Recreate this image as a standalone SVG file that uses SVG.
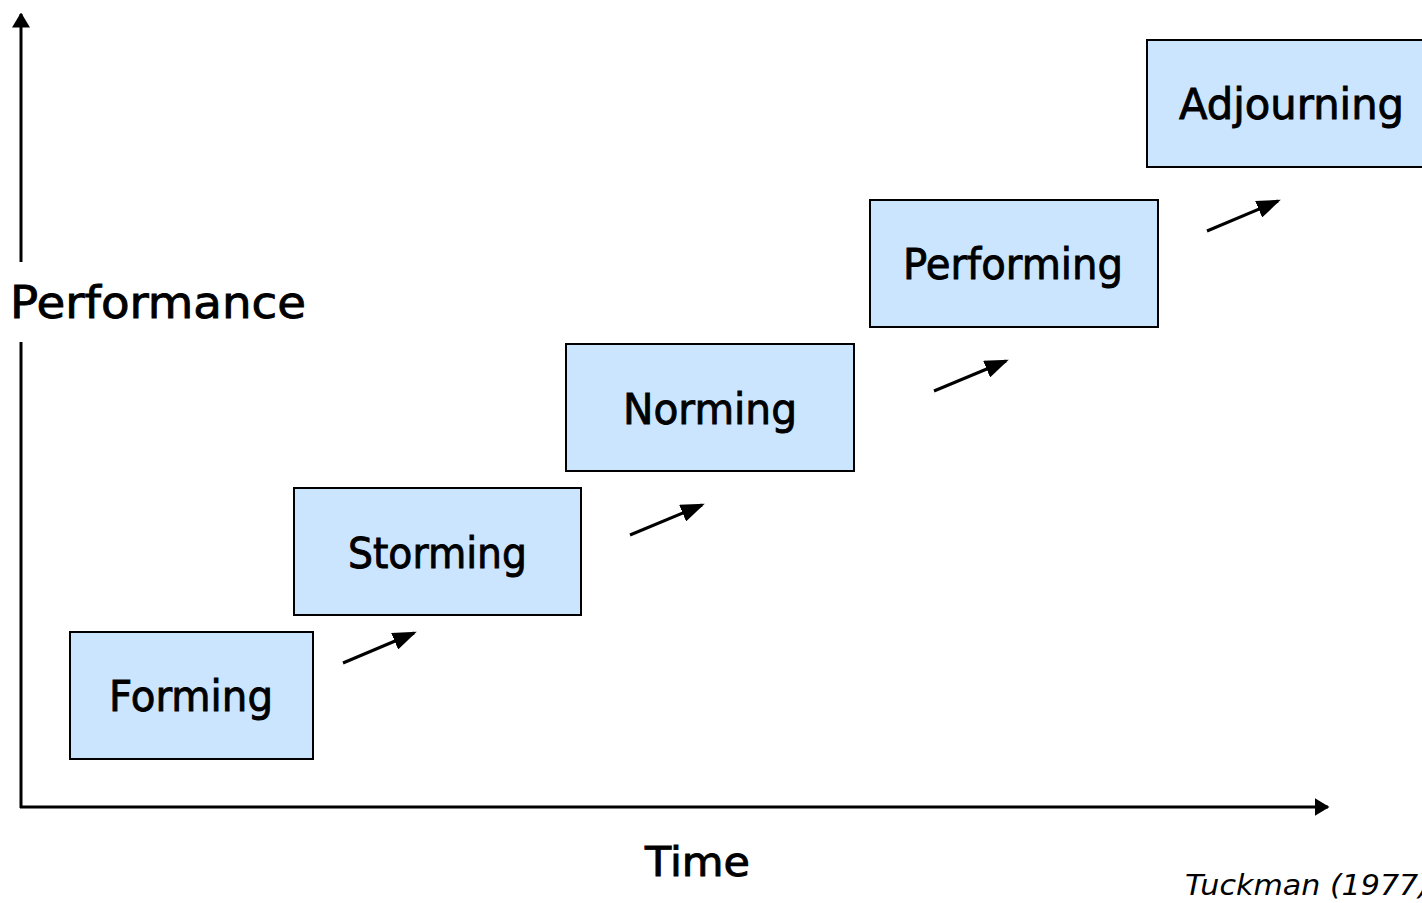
<svg xmlns="http://www.w3.org/2000/svg" width="1422" height="903" viewBox="0 0 1422 903">
<style>
.box{fill:#cce5ff;stroke:#000;stroke-width:2}
.lbl{font-family:"DejaVu Sans",Verdana,sans-serif;font-size:42px;fill:#000;stroke:#000;stroke-width:0.9;text-anchor:middle}
.ax{stroke:#000;stroke-width:3;fill:none}
.ar{stroke:#000;stroke-width:3;fill:none;marker-end:url(#ah)}
</style>
<defs>
<marker id="ah" markerWidth="8" markerHeight="6" refX="7" refY="3" orient="auto" markerUnits="strokeWidth">
<path d="M0,0 L8,3 L0,6 Z" fill="#000"/>
</marker>
<marker id="axh" markerWidth="5" markerHeight="6" refX="4.5" refY="3" orient="auto" markerUnits="strokeWidth">
<path d="M0,0 L5,3 L0,6 Z" fill="#000"/>
</marker>
</defs>
<g id="axes">
<line class="ax" x1="21" y1="262" x2="21" y2="14" marker-end="url(#axh)"/>
<line class="ax" x1="21" y1="342" x2="21" y2="808"/>
<line class="ax" x1="20" y1="807" x2="1328" y2="807" marker-end="url(#axh)"/>
</g>
<g id="connectors">
<line class="ar" x1="343" y1="663" x2="414" y2="633"/>
<line class="ar" x1="630" y1="535" x2="702" y2="505"/>
<line class="ar" x1="934" y1="391" x2="1006" y2="361"/>
<line class="ar" x1="1207" y1="231" x2="1278" y2="201"/>
</g>
<g id="forming"><rect class="box" x="70" y="632" width="243" height="127"/><text class="lbl" x="191" y="711" textLength="164" lengthAdjust="spacingAndGlyphs">Forming</text></g>
<g id="storming"><rect class="box" x="294" y="488" width="287" height="127"/><text class="lbl" x="437.5" y="568" textLength="179" lengthAdjust="spacingAndGlyphs">Storming</text></g>
<g id="norming"><rect class="box" x="566" y="344" width="288" height="127"/><text class="lbl" x="710" y="424" textLength="174" lengthAdjust="spacingAndGlyphs">Norming</text></g>
<g id="performing"><rect class="box" x="870" y="200" width="288" height="127"/><text class="lbl" x="1013" y="279" textLength="220" lengthAdjust="spacingAndGlyphs">Performing</text></g>
<g id="adjourning"><rect class="box" x="1147" y="40" width="277" height="127"/><text class="lbl" x="1291.5" y="119" textLength="225" lengthAdjust="spacingAndGlyphs">Adjourning</text></g>
<text class="lbl" x="10" y="318" style="text-anchor:start;font-size:45px" textLength="296" lengthAdjust="spacingAndGlyphs">Performance</text>
<text class="lbl" x="697.5" y="876" style="font-size:40px" textLength="105" lengthAdjust="spacingAndGlyphs">Time</text>
<text x="1185" y="895" style="font-family:'DejaVu Sans',Verdana,sans-serif;font-size:28px;font-style:italic" textLength="245" lengthAdjust="spacingAndGlyphs">Tuckman (1977)</text>
</svg>
